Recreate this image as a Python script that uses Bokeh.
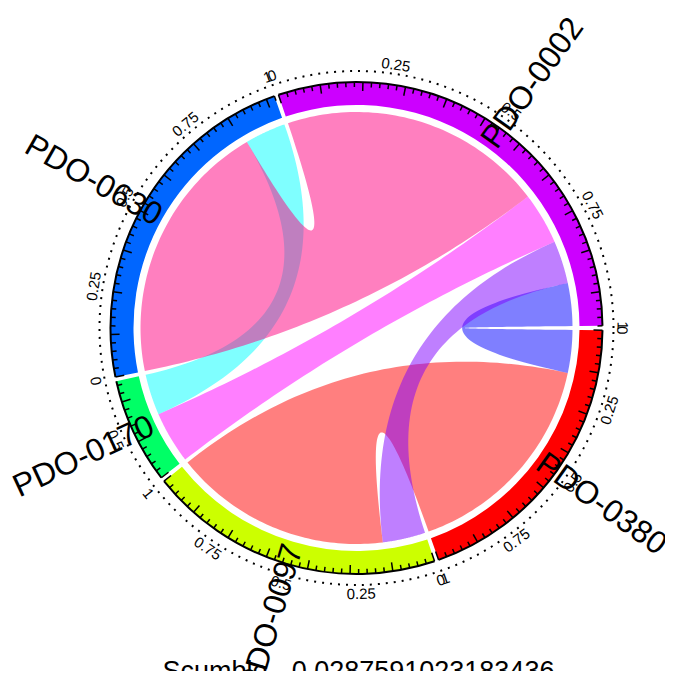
import math
import numpy as np
from bokeh.plotting import figure
from bokeh.models import Range1d
from bokeh.embed import file_html
from bokeh.resources import INLINE
from bokeh.core.properties import value

# ---------------- data ----------------
sectors = ["PDO-0380", "PDO-0097", "PDO-0170", "PDO-0630", "PDO-0002"]
sector_colors = ["#FF0000", "#CCFF00", "#00FF66", "#0066FF", "#CC00FF"]

link_from = ["PDO-0380", "PDO-0002", "PDO-0002", "PDO-0170", "PDO-0170", "PDO-0630"]
link_to = ["PDO-0097", "PDO-0380", "PDO-0097", "PDO-0002", "PDO-0630", "PDO-0002"]
link_value = [58.5, 11.5, 11.5, 14.0, 11.0, 71.0]
link_colors = ["#FF0000", "#0000FF", "#8000FF", "#FF00FF", "#00FFFF", "#FF0080"]

axis_ticks = [0, 0.25, 0.5, 0.75, 1]
axis_labels = ["0", "0.25", "0.5", "0.75", "1"]
narrow_sector_ticks = [0.5]
narrow_sector_labels = ["0.5"]
title_text = "Scumble - 0.0287591023183436"

# ---------------- geometry ----------------
W, H = 665, 671
PAGE_H = 679
cx, cy = 364.0, PAGE_H - 335.5
GAP = 1.0
R_OUT, R_IN = 246.0, 223.0
R_LINK = 216.0
R_DOT = 257.0
R_TLAB = 266.0
R_NAME = 226.0

totals = {s: 0.0 for s in sectors}
for f, t, v in zip(link_from, link_to, link_value):
    totals[f] += v
    totals[t] += v
deg_per_unit = (360.0 - GAP * len(sectors)) / sum(totals.values())

sec_start, sec_end = {}, {}
pos = GAP / 2
for s in sectors:
    sec_start[s] = pos
    sec_end[s] = pos + totals[s] * deg_per_unit
    pos = sec_end[s] + GAP

# link end intervals: inside each sector, order by index of other sector (descending)
ends = {}
for s in sectors:
    items = []
    for i, (f, t) in enumerate(zip(link_from, link_to)):
        if f == s:
            items.append((sectors.index(t), i))
        elif t == s:
            items.append((sectors.index(f), i))
    items.sort(reverse=True)
    a = sec_start[s]
    for _, i in items:
        w = link_value[i] * deg_per_unit
        ends[(i, s)] = (a, a + w)
        a += w


def pt(theta, r):
    t = math.radians(theta)
    return cx + r * math.cos(t), cy - r * math.sin(t)


def arc_pts(a1, a2, r, n=60):
    th = np.linspace(a1, a2, n)
    return [pt(x, r) for x in th]


def bez_pts(t0, t1, r, n=60):
    p0 = np.array(pt(t0, r))
    p2 = np.array(pt(t1, r))
    c = np.array([cx, cy])
    out = []
    for t in np.linspace(0, 1, n):
        q = (1 - t) ** 2 * p0 + 2 * t * (1 - t) * c + t ** 2 * p2
        out.append((q[0], q[1]))
    return out


p = figure(width=W, height=H, output_backend="svg", toolbar_location=None,
           x_range=Range1d(8, 8 + W), y_range=Range1d(PAGE_H - 8 - H, PAGE_H - 8),
           x_axis_location=None, y_axis_location=None, min_border=0)
p.grid.visible = False
p.outline_line_color = None
p.background_fill_color = "white"

# chords
for i, (f, t) in enumerate(zip(link_from, link_to)):
    a1, a2 = ends[(i, f)]
    b1, b2 = ends[(i, t)]
    pts = arc_pts(a1, a2, R_LINK) + bez_pts(a2, b1, R_LINK) + arc_pts(b1, b2, R_LINK) + bez_pts(b2, a1, R_LINK)
    p.patch([q[0] for q in pts], [q[1] for q in pts], fill_color=link_colors[i],
            fill_alpha=0.5, line_color=None)

# sector band
for s, col in zip(sectors, sector_colors):
    p.annular_wedge(x=cx, y=cy, inner_radius=R_IN, outer_radius=R_OUT,
                    start_angle=-math.radians(sec_end[s]), end_angle=-math.radians(sec_start[s]),
                    direction="anticlock", fill_color=col, line_color=None)
    p.arc(x=cx, y=cy, radius=R_OUT, start_angle=-math.radians(sec_end[s]),
          end_angle=-math.radians(sec_start[s]), direction="anticlock",
          line_color="black", line_width=2)

# ticks on band (every 2 units, long every 10 units)
x0s, y0s, x1s, y1s = [], [], [], []
for s in sectors:
    span = totals[s]
    k = 0
    u = 0.0
    while u <= span + 1e-6:
        th = sec_start[s] + u * deg_per_unit
        ln = 9 if k % 5 == 0 else 5
        a = pt(th, R_OUT)
        b = pt(th, R_OUT - ln)
        x0s.append(a[0]); y0s.append(a[1]); x1s.append(b[0]); y1s.append(b[1])
        k += 1
        u += 2.0
p.segment(x0=x0s, y0=y0s, x1=x1s, y1=y1s, line_color="black", line_width=1.5)

# dotted circle
p.arc(x=cx, y=cy, radius=R_DOT, start_angle=0, end_angle=2 * math.pi,
      line_color="black", line_width=2, line_dash="2 6")

# axis labels
lx, ly, lt, la = [], [], [], []
for s in sectors:
    span = sec_end[s] - sec_start[s]
    if span < 30:
        tks, lbs = narrow_sector_ticks, narrow_sector_labels
    else:
        tks, lbs = axis_ticks, axis_labels
    for tk, lb in zip(tks, lbs):
        th = sec_start[s] + tk * span
        x, y = pt(th, R_TLAB)
        phi = -th
        rot = 0.0
        for c in (phi + 90, phi - 90):
            c = (c + 180) % 360 - 180
            if -90 < c <= 90:
                rot = c
        lx.append(x); ly.append(y); lt.append(lb); la.append(math.radians(rot))
p.text(x=lx, y=ly, text=lt, angle=la, text_align="center", text_baseline="middle",
       text_font=value("Liberation Sans"), text_font_size="15px", text_color="black")

# sector names
for s in sectors:
    th = (sec_start[s] + sec_end[s]) / 2
    x, y = pt(th, R_NAME)
    if math.cos(math.radians(th)) >= 0:
        ang, al = -th, "left"
    else:
        ang, al = -th + 180, "right"
    p.text(x=[x], y=[y], text=[s], angle=[math.radians(ang)], text_align=al,
           text_baseline="middle", text_font=value("Liberation Sans"),
           text_font_size="32px", text_color="black")

# title (cut at bottom like reference)
p.text(x=[366], y=[16], text=[title_text], text_align="center",
       text_baseline="top", text_font=value("Liberation Sans"),
       text_font_size="27px", text_color="black")

open("out.html", "w").write(file_html(p, INLINE))
